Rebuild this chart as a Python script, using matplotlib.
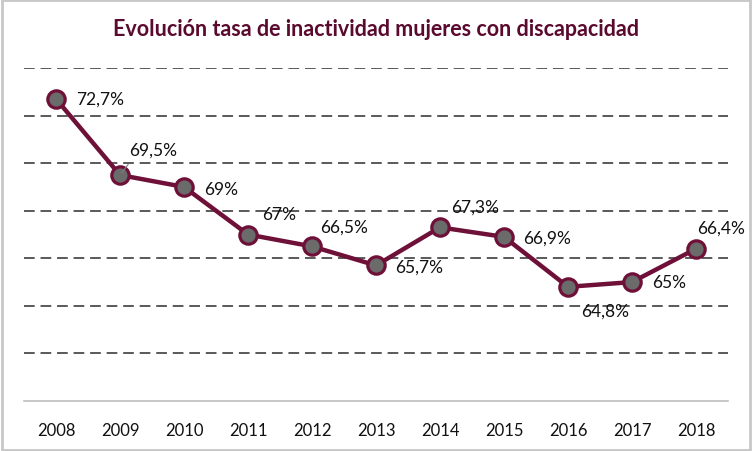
import matplotlib.pyplot as plt
from matplotlib.patches import Rectangle

plt.rcParams['font.family'] = ['Lato', 'DejaVu Sans']

years = ['2008', '2009', '2010', '2011', '2012', '2013', '2014', '2015', '2016', '2017', '2018']
rate = [72.7, 69.5, 69.0, 67.0, 66.5, 65.7, 67.3, 66.9, 64.8, 65.0, 66.4]
labels = ['72,7%', '69,5%', '69%', '67%', '66,5%', '65,7%', '67,3%', '66,9%', '64,8%', '65%', '66,4%']

# label offsets in pixels (dx, dy) from each point
offsets = [(20, 0), (9, 25), (20, -2), (14, 20), (8, 20), (19, -1),
           (11, 21), (19, -1), (13, -24), (20, 0), (1, 21)]

maroon = '#6E1038'

fig = plt.figure(figsize=(7.52, 4.52), dpi=100)
ax = fig.add_axes([24 / 752, 50 / 452, 704 / 752, 333 / 452])

x = list(range(len(years)))
ax.plot(x, rate, color=maroon, lw=3.2, marker='o', ms=12.5,
        mfc='#6b6b6b', mec=maroon, mew=2.3, zorder=3)

for i, (lab, off) in enumerate(zip(labels, offsets)):
    ax.annotate(lab, (i, rate[i]), xytext=off, textcoords='offset pixels',
                ha='left', va='center', fontsize=12.5, color='#111111', zorder=4)

# leader line for 2009 label
ax.annotate('', (1, rate[1]), xytext=(10, 13), textcoords='offset pixels',
            arrowprops=dict(arrowstyle='-', color='#808080', lw=0.8))

ax.set_xlim(-0.5, len(years) - 0.5)
ax.set_ylim(60, 74)
ax.set_yticks(range(62, 75, 2))
ax.yaxis.grid(True, linestyle=(0, (5.5, 3)), color='#595959', lw=1.4)
ax.set_axisbelow(True)
ax.set_yticklabels([])
ax.tick_params(axis='y', length=0)
ax.set_xticks(x)
ax.set_xticklabels(years, fontsize=12, color='#111111')
ax.tick_params(axis='x', length=0, pad=15)
for s in ['top', 'right', 'left']:
    ax.spines[s].set_visible(False)
ax.spines['bottom'].set_color('#bfbfbf')
ax.spines['bottom'].set_linewidth(1.2)

fig.text(0.5, 1 - 30 / 452, 'Evolución tasa de inactividad mujeres con discapacidad',
         ha='center', va='center', fontsize=15.5, fontweight='bold', color='#5a0a2e')

fig.patches.append(Rectangle((0.002, 0.003), 0.995, 0.994, transform=fig.transFigure,
                             fill=False, edgecolor='#c8c8c8', lw=2))

plt.savefig('out.png', dpi=100)
